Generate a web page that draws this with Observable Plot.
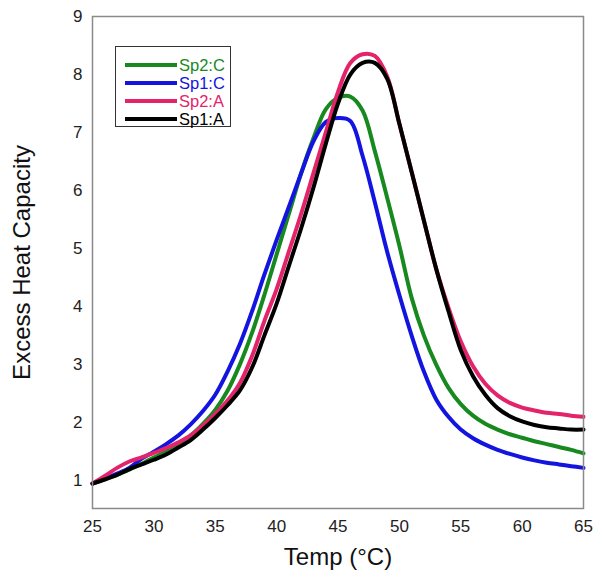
<!DOCTYPE html>
<html>
<head>
<meta charset="utf-8">
<script src="https://cdn.jsdelivr.net/npm/d3@7"></script>
<script src="https://cdn.jsdelivr.net/npm/@observablehq/plot@0.6"></script>
<style>
  html, body { margin: 0; padding: 0; background: #fff; }
  #wrap { position: relative; width: 602px; height: 580px; font-family: "Liberation Sans", Arial, sans-serif; }
  #legend { position: absolute; left: 115px; top: 46px; width: 116px; height: 81px; box-sizing: border-box;
            border: 1.2px solid #333; background: #fff; }
  .row { position: absolute; left: 9px; height: 18px; display: flex; align-items: center; }
  .sw { width: 52px; height: 4px; margin-right: 2px; }
  .lab { font-size: 16.5px; line-height: 18px; }
</style>
</head>
<body>
<div id="wrap"></div>
<script>
const temps = [25,26,27,28,29,30,31,32,33,34,35,36,37,38,39,40,41,42,43,44,45,46,47,48,49,50,51,52,53,54,55,56,57,58,59,60,61,62,63,64,65];

const sp2C = [0.95,1.03,1.10,1.19,1.29,1.40,1.50,1.63,1.78,1.98,2.22,2.55,3.00,3.55,4.20,4.90,5.60,6.30,6.90,7.40,7.60,7.62,7.38,6.68,5.88,5.05,4.15,3.50,3.00,2.60,2.32,2.12,1.98,1.88,1.80,1.74,1.68,1.63,1.58,1.53,1.47];
const sp1C = [0.95,1.03,1.12,1.22,1.38,1.50,1.63,1.78,1.97,2.20,2.48,2.88,3.35,3.92,4.55,5.15,5.72,6.30,6.85,7.18,7.25,7.20,6.60,5.80,4.95,4.20,3.50,2.88,2.40,2.10,1.88,1.73,1.62,1.53,1.46,1.40,1.35,1.31,1.28,1.25,1.22];
const sp2A = [0.95,1.08,1.22,1.33,1.40,1.48,1.56,1.66,1.78,1.95,2.15,2.38,2.68,3.15,3.75,4.30,4.95,5.60,6.30,7.00,7.70,8.20,8.35,8.32,7.97,7.15,6.32,5.48,4.65,3.98,3.40,2.97,2.67,2.47,2.34,2.26,2.21,2.17,2.15,2.12,2.10];
const sp1A = [0.95,1.02,1.10,1.20,1.28,1.36,1.45,1.57,1.70,1.88,2.08,2.30,2.55,2.95,3.50,4.05,4.70,5.35,6.05,6.80,7.50,8.00,8.20,8.20,7.93,7.15,6.32,5.48,4.65,3.92,3.25,2.80,2.48,2.25,2.11,2.02,1.96,1.92,1.90,1.88,1.88];

const seriesNames = ["Sp2:C", "Sp1:C", "Sp2:A", "Sp1:A"];
const seriesColors = ["#17891f", "#1414e0", "#e3236a", "#000000"];
const xTicks = [25,30,35,40,45,50,55,60,65];
const yTicks = [1,2,3,4,5,6,7,8,9];
const xTitle = "Temp (°C)";
const yTitle = "Excess Heat Capacity";

const seriesValues = [sp2C, sp1C, sp2A, sp1A];
const rows = [];
seriesNames.forEach((name, i) => {
  temps.forEach((t, j) => rows.push({series: name, temp: t, value: seriesValues[i][j]}));
});

const chart = Plot.plot({
  width: 602,
  height: 580,
  marginLeft: 92,
  marginRight: 19,
  marginTop: 16,
  marginBottom: 72,
  style: {fontFamily: "'Liberation Sans', Arial, sans-serif", background: "#fff", color: "#222"},
  x: {domain: [25, 65]},
  y: {domain: [0.52, 9]},
  color: {domain: seriesNames, range: seriesColors},
  marks: [
    Plot.axisX(xTicks, {tickSize: 0, tickPadding: 11, fontSize: 17, tickFormat: d => String(d), label: null}),
    Plot.axisY(yTicks, {tickSize: 0, tickPadding: 10, fontSize: 17, tickFormat: d => String(d), label: null}),
    Plot.line(rows, {x: "temp", y: "value", z: "series", stroke: "series", strokeWidth: 4, curve: "catmull-rom", strokeLinejoin: "round", strokeLinecap: "round"}),
    Plot.frame({stroke: "#8a8a8a", strokeWidth: 1.5}),
    Plot.text([xTitle], {frameAnchor: "bottom", dy: 56, fontSize: 24, fill: "#111"}),
    Plot.text([yTitle], {frameAnchor: "left", textAnchor: "middle", dx: -70, rotate: -90, fontSize: 24, fill: "#111"})
  ]
});

const wrap = document.getElementById("wrap");
wrap.appendChild(chart);

const legend = document.createElement("div");
legend.id = "legend";
seriesNames.forEach((name, i) => {
  const row = document.createElement("div");
  row.className = "row";
  row.style.top = (9 + i * 18) + "px";
  const sw = document.createElement("div");
  sw.className = "sw";
  sw.style.background = seriesColors[i];
  const lab = document.createElement("span");
  lab.className = "lab";
  lab.style.color = seriesColors[i];
  lab.textContent = name;
  row.appendChild(sw);
  row.appendChild(lab);
  legend.appendChild(row);
});
wrap.appendChild(legend);
</script>
</body>
</html>
